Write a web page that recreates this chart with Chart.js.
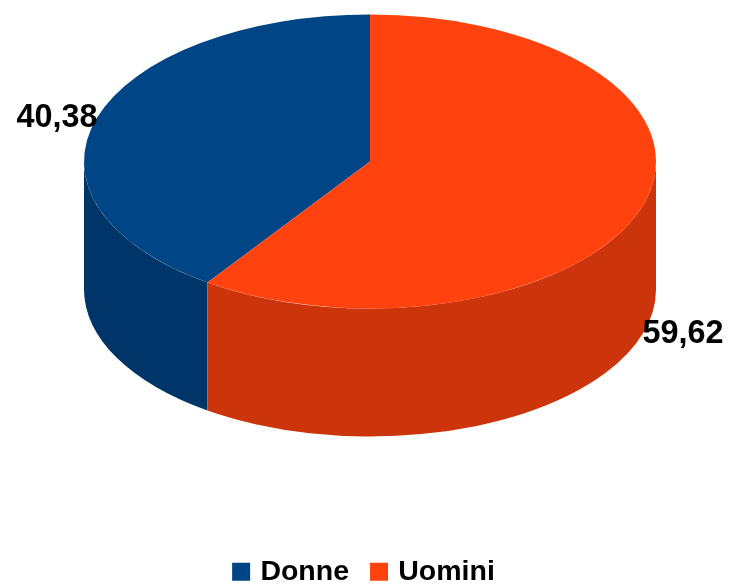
<!DOCTYPE html>
<html>
<head>
<meta charset="utf-8">
<style>
  html, body { margin: 0; padding: 0; background: #fff; }
  #wrap { width: 731px; height: 585px; }
</style>
<script src="https://cdn.jsdelivr.net/npm/chart.js@4"></script>
</head>
<body>
<div id="wrap"><canvas id="pieChart"></canvas></div>
<script>
var categories = ["Donne", "Uomini"];
var values = [40.38, 59.62];
var valueLabels = ["40,38", "59,62"];
var topColors = ["#004586", "#ff420e"];
var sideColors = ["#00356a", "#cc350b"];

// flat pie squashed and given a side wall to look like the 3D original
var squash = 147 / 286;
var depth = 128;
var pieCenterX = 370;
var pieCenterY = 161.5;
var labelPos = [[57, 126.5], [683, 342.5]];

var pie3d = {
  id: 'pie3d',
  beforeDatasetsDraw: function (chart) {
    var ctx = chart.ctx;
    var arcs = chart.getDatasetMeta(0).data;
    var cx = arcs[0].x, cy = arcs[0].y;
    var r = arcs[0].outerRadius;
    var ry = r * squash;

    // only the front half of the wall can be seen
    arcs.forEach(function (arc, i) {
      var ranges = [[arc.startAngle, arc.endAngle], [arc.startAngle - Math.PI * 2, arc.endAngle - Math.PI * 2]];
      ranges.forEach(function (range) {
        var a0 = Math.max(range[0], 0);
        var a1 = Math.min(range[1], Math.PI);
        if (a1 <= a0) return;
        ctx.beginPath();
        ctx.ellipse(pieCenterX, pieCenterY, r, ry, 0, a0, a1);
        ctx.ellipse(pieCenterX, pieCenterY + depth, r, ry, 0, a1, a0, true);
        ctx.closePath();
        ctx.fillStyle = sideColors[i];
        ctx.fill();
      });
    });

    ctx.save();
    ctx.translate(pieCenterX, pieCenterY);
    ctx.scale(1, squash);
    ctx.translate(-cx, -cy);
  },
  afterDatasetsDraw: function (chart) {
    var ctx = chart.ctx;
    ctx.restore();
    ctx.save();
    // the original digits are taller than they are wide, hence the max width
    ctx.font = 'bold 34px "Liberation Sans"';
    ctx.fillStyle = '#000';
    ctx.textAlign = 'center';
    ctx.textBaseline = 'alphabetic';
    valueLabels.forEach(function (t, i) {
      ctx.fillText(t, labelPos[i][0], labelPos[i][1], 81);
    });
    ctx.restore();
  }
};

var ctx = document.getElementById('pieChart').getContext("2d");

var myChart = new Chart(ctx, {
  type: 'pie',
  data: {
    labels: categories,
    datasets: [{
      data: values,
      backgroundColor: topColors,
      borderWidth: 0,
      radius: 286
    }]
  },
  options: {
    responsive: true,
    maintainAspectRatio: false,
    animation: false,
    // Donne ends at twelve o'clock, Uomini starts there
    rotation: values[1] / (values[0] + values[1]) * 360,
    layout: { padding: { bottom: -11 } },
    plugins: {
      tooltip: { enabled: false },
      legend: {
        display: true,
        position: 'bottom',
        labels: {
          // small box plus thick border: keeps the text close to the square
          boxWidth: 10,
          boxHeight: 10,
          padding: 25,
          color: '#000',
          font: { family: '"Liberation Sans"', size: 28.5, weight: 'bold' },
          generateLabels: function (chart) {
            var items = Chart.overrides.pie.plugins.legend.labels.generateLabels(chart);
            items.forEach(function (item) {
              item.lineWidth = 8;
              item.strokeStyle = item.fillStyle;
            });
            return items;
          }
        }
      }
    }
  },
  plugins: [pie3d]
});
</script>
</body>
</html>
